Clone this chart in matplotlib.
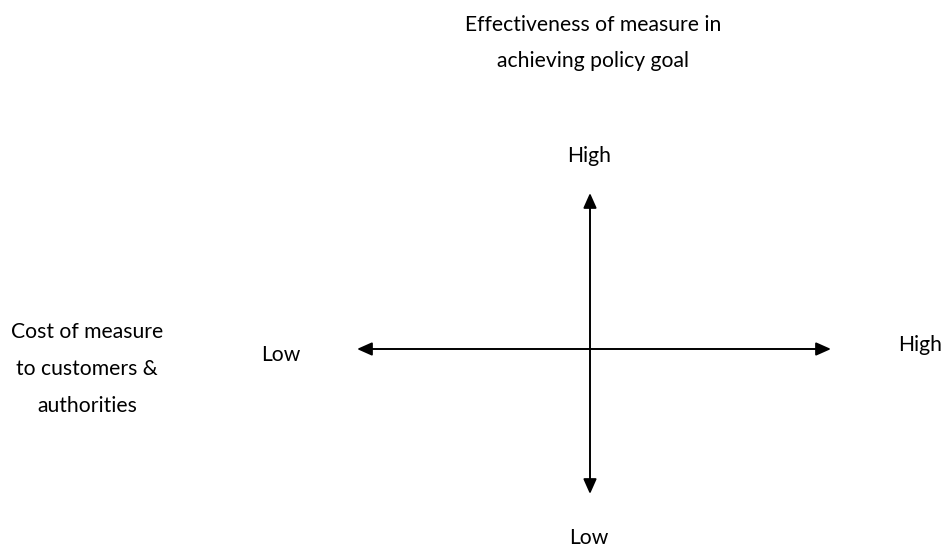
import matplotlib.pyplot as plt

# axis labels of the effectiveness / cost diagram
y_title = ['Effectiveness of measure in', 'achieving policy goal']
x_title = ['Cost of measure', 'to customers &', 'authorities']
y_ends = ['Low', 'High']
x_ends = ['Low', 'High']

plt.rcParams['font.family'] = ['Lato', 'DejaVu Sans']

fig = plt.figure(figsize=(9.49, 5.5), dpi=100)
ax = fig.add_axes([0, 0, 1, 1])
ax.set_xlim(0, 949)
ax.set_ylim(550, 0)
ax.axis('off')

arrow = dict(arrowstyle='<|-|>,head_length=0.9,head_width=0.4', color='black', lw=1.4,
             shrinkA=0, shrinkB=0)
ax.annotate('', xy=(357, 349), xytext=(831, 349), arrowprops=arrow)
ax.annotate('', xy=(590, 193), xytext=(590, 494), arrowprops=arrow)

fs = 15.2
ls = 2.05
ax.text(593, 43, '\n'.join(y_title), ha='center', va='center', fontsize=fs, linespacing=ls)
ax.text(589, 156, y_ends[1], ha='center', va='center', fontsize=fs)
ax.text(589, 538, y_ends[0], ha='center', va='center', fontsize=fs)
ax.text(281, 355, x_ends[0], ha='center', va='center', fontsize=fs)
ax.text(920, 345, x_ends[1], ha='center', va='center', fontsize=fs)
ax.text(87, 369, '\n'.join(x_title), ha='center', va='center', fontsize=fs, linespacing=ls)

fig.savefig('out.png', dpi=100)
